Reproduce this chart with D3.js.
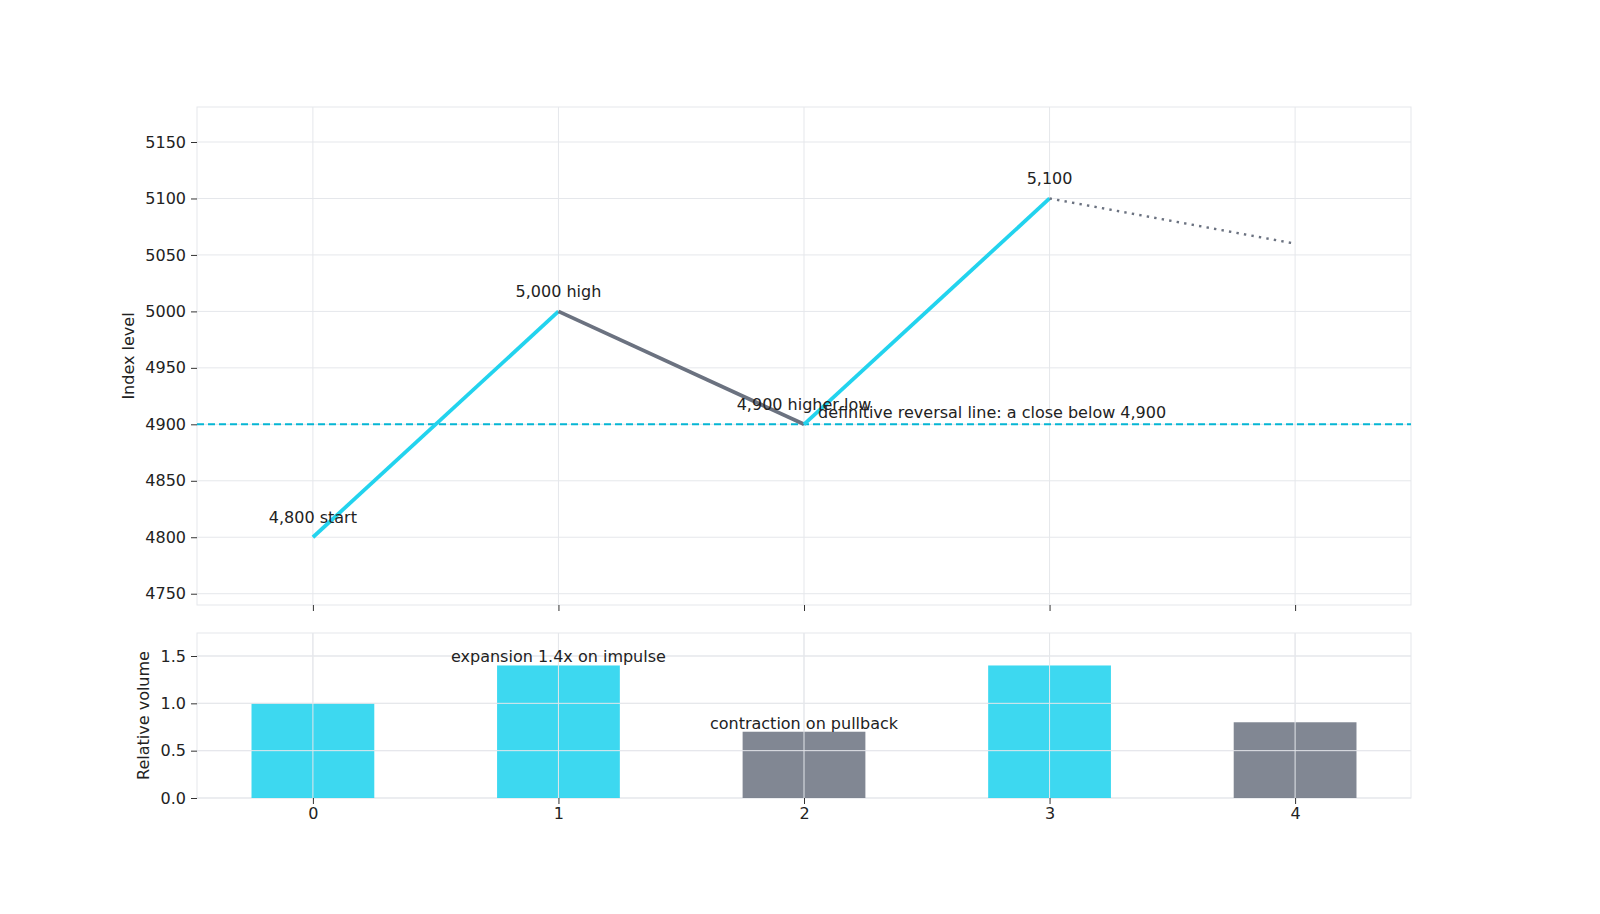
<!DOCTYPE html>
<html>
<head>
<meta charset="utf-8">
<script src="https://cdn.jsdelivr.net/npm/d3@7"></script>
<style>
body { margin: 0; background: #fff; }
text { font-family: "DejaVu Sans", sans-serif; fill: #222; }
</style>
</head>
<body>
<div id="chart"></div>
<script>
// data
const steps = [0, 1, 2, 3, 4];
const levels = [4800, 5000, 4900, 5100, 5060];
const segKinds = ['up', 'down', 'up', 'proj'];
const volumes = [1.0, 1.4, 0.7, 1.4, 0.8];
const volKinds = ['up', 'up', 'down', 'up', 'down'];
const levelTicks = [4750, 4800, 4850, 4900, 4950, 5000, 5050, 5100, 5150];
const volTicks = [0.0, 0.5, 1.0, 1.5];
const pointLabels = ['4,800 start', '5,000 high', '4,900 higher low', '5,100', null];
const volLabels = [null, 'expansion 1.4x on impulse', 'contraction on pullback', null, null];
const reversalLevel = 4900;
const reversalText = 'definitive reversal line: a close below 4,900';

const W = 1600, H = 914;
const left = 197, right = 1411;
const top1 = 107, bot1 = 605;
const top2 = 633, bot2 = 798;
const FS = '16px';

const CYAN = '#22d3ee', GRAY = '#6b7280', GRID = '#e5e7eb';

const svg = d3.select('#chart').append('svg')
	.attr('width', W)
	.attr('height', H)

const x = d3.scaleLinear().domain([-0.472, 4.472]).range([left, right]);
const y1 = d3.scaleLinear().domain([4740, 5181]).range([bot1, top1]);
const y2 = d3.scaleLinear().domain([0, 1.743]).range([bot2, top2]);

function frame(yScale, yTicks, top, bot, fmt) {
	const g = svg.append('g');
	//grid
	g.selectAll('.vg').data(steps).enter().append('line')
		.attr('x1', d => x(d)).attr('x2', d => x(d))
		.attr('y1', top).attr('y2', bot)
		.style('stroke', GRID).style('stroke-width', '1px')
	g.selectAll('.hg').data(yTicks).enter().append('line')
		.attr('x1', left).attr('x2', right)
		.attr('y1', d => yScale(d)).attr('y2', d => yScale(d))
		.style('stroke', GRID).style('stroke-width', '1px')
	//spines
	g.append('rect')
		.attr('x', left).attr('y', top)
		.attr('width', right - left).attr('height', bot - top)
		.style('fill', 'none').style('stroke', GRID)
	//y axis
	const ax = g.append('g')
		.attr('transform', 'translate(' + left + ',0)')
		.call(d3.axisLeft(yScale).tickValues(yTicks).tickSize(6).tickPadding(5).tickFormat(fmt))
	ax.select('.domain').remove();
	ax.selectAll('line').style('stroke', '#333');
	ax.selectAll('text').style('font-size', FS).style('fill', '#222');
	return g;
}

// top panel
const g1 = frame(y1, levelTicks, top1, bot1, d3.format('d'));
const xt1 = svg.append('g')
	.attr('transform', 'translate(0,' + bot1 + ')')
	.call(d3.axisBottom(x).tickValues(steps).tickSize(6).tickFormat(''))
xt1.select('.domain').remove();
xt1.selectAll('line').style('stroke', '#333');

svg.append('line')
	.attr('x1', left).attr('x2', right)
	.attr('y1', y1(reversalLevel)).attr('y2', y1(reversalLevel))
	.style('stroke', '#06b6d4').style('stroke-width', '2px')
	.style('stroke-dasharray', '7,4')

segKinds.forEach((k, i) => {
	const seg = svg.append('line')
		.attr('x1', x(steps[i])).attr('y1', y1(levels[i]))
		.attr('x2', x(steps[i + 1])).attr('y2', y1(levels[i + 1]))
	if (k === 'up') seg.style('stroke', CYAN).style('stroke-width', '3.8px');
	else if (k === 'down') seg.style('stroke', GRAY).style('stroke-width', '3.8px');
	else seg.style('stroke', GRAY).style('stroke-width', '2.4px').style('stroke-dasharray', '2.4,5.2');
});

svg.selectAll('.plab').data(steps.filter((d, i) => pointLabels[i])).enter().append('text')
	.attr('x', d => x(d))
	.attr('y', d => y1(levels[d]) - 14)
	.attr('text-anchor', 'middle')
	.style('font-size', FS)
	.text(d => pointLabels[d])

svg.append('text')
	.attr('x', x(2.057))
	.attr('y', y1(4906))
	.style('font-size', FS)
	.text(reversalText)

// bottom panel
const gb = frame(y2, volTicks, top2, bot2, d3.format('.1f'));
svg.selectAll('.bar').data(steps).enter().append('rect')
	.attr('x', d => x(d - 0.25))
	.attr('width', x(0.25) - x(-0.25))
	.attr('y', d => y2(volumes[d]))
	.attr('height', d => y2(0) - y2(volumes[d]))
	.style('fill', d => volKinds[d] === 'up' ? CYAN : GRAY)
	.style('opacity', d => volKinds[d] === 'up' ? 0.88 : 0.85)
// grid drawn over the bars
svg.selectAll('.vg2').data(steps).enter().append('line')
	.attr('x1', d => x(d)).attr('x2', d => x(d))
	.attr('y1', top2).attr('y2', bot2)
	.style('stroke', GRID).style('stroke-width', '1px')
svg.selectAll('.hg2').data(volTicks.slice(1)).enter().append('line')
	.attr('x1', left).attr('x2', right)
	.attr('y1', d => y2(d)).attr('y2', d => y2(d))
	.style('stroke', GRID).style('stroke-width', '1px')

const xt2 = svg.append('g')
	.attr('transform', 'translate(0,' + bot2 + ')')
	.call(d3.axisBottom(x).tickValues(steps).tickSize(6).tickPadding(4).tickFormat(d3.format('d')))
xt2.select('.domain').remove();
xt2.selectAll('line').style('stroke', '#333');
xt2.selectAll('text').style('font-size', FS).style('fill', '#222');

svg.selectAll('.vlab').data(steps.filter((d, i) => volLabels[i])).enter().append('text')
	.attr('x', d => x(d))
	.attr('y', d => y2(volumes[d]) - 3)
	.attr('text-anchor', 'middle')
	.style('font-size', FS)
	.text(d => volLabels[d])

// axis titles
svg.append('text')
	.attr('transform', 'translate(134,' + (top1 + bot1) / 2 + ') rotate(-90)')
	.attr('text-anchor', 'middle')
	.style('font-size', FS)
	.text('Index level')
svg.append('text')
	.attr('transform', 'translate(149,' + (top2 + bot2) / 2 + ') rotate(-90)')
	.attr('text-anchor', 'middle')
	.style('font-size', FS)
	.text('Relative volume')
</script>
</body>
</html>
